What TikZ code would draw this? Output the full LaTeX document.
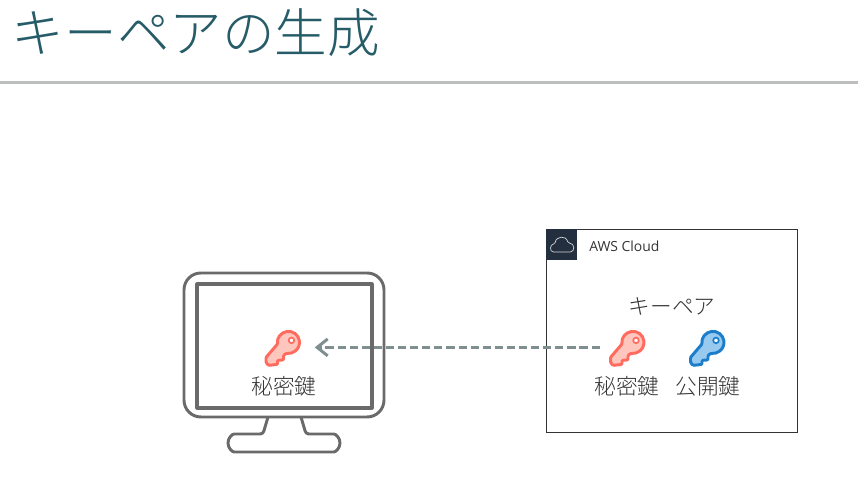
\documentclass[tikz,border=0pt]{standalone}
\usepackage{fontspec}
\setmainfont{Noto Sans CJK JP Light}
\newfontfamily\awsfont{Open Sans}
\usetikzlibrary{arrows.meta}
\definecolor{titleteal}{HTML}{265C68}
\definecolor{rulegray}{HTML}{BDBFBF}
\definecolor{labelgray}{HTML}{333333}
\definecolor{monitorgray}{HTML}{6A6A6A}
\definecolor{dashgray}{HTML}{7F8F8F}
\definecolor{badgenavy}{HTML}{232F3E}
\definecolor{keyred}{HTML}{FF6B5E}
\definecolor{keyredfill}{HTML}{FFC6BE}
\definecolor{keyblue}{HTML}{1C7ECB}
\definecolor{keybluefill}{HTML}{98C9EF}
\tikzset{
	keyicon/.pic={
		\draw[line width=2.1pt, draw=#1, fill=#1fill, line join=round, rounded corners=0.7pt]
			(-10.9, 1.5) arc (172:460:11) -- (-5, 13) -- (-5, 17.5) -- (-11, 18) -- (-11, 22) -- (-20, 23) -- (-22.5, 20) -- (-22.5, 15) -- cycle;
		\draw[line width=1.2pt, draw=#1, fill=white] (3, -2) circle (2.8);
	},
	keyspot/.style={minimum width=42.7pt, minimum height=24pt, inner sep=0pt},
	keylabel/.style={text=labelgray, font=\fontsize{15.4}{18}\selectfont, inner sep=0pt},
	monitorline/.style={line width=2.1pt, draw=monitorgray, fill=white, line join=round}
}

\begin{document}
\begin{tikzpicture}[x=0.025cm, y=-0.025cm]
	\useasboundingbox (0, 0) rectangle (858, 477);
	
	%%%%% HEADER %%%%%
	\node[text=titleteal, font=\fontsize{37.4}{44}\selectfont, inner sep=0pt] (titletext) at (196, 33) {キーペアの生成};
	\fill[rulegray] (0, 81.5) rectangle (858, 84.5);
	
	%%%%% MONITOR %%%%%
	\draw[monitorline, rounded corners=2pt] (268, 417) -- (263, 434) -- (237, 434) arc (270:90:9) -- (331, 452) arc (90:-90:9) -- (306, 434) -- (301, 417);
	\draw[monitorline, rounded corners=12pt] (184, 273) rectangle (384, 417);
	\draw[monitorline, line width=2.2pt] (197, 284) rectangle (372, 408);
	
	%%%%% CLOUD %%%%%
	\draw[line width=0.7pt, draw=black!80] (546, 229) rectangle (797, 432);
	\fill[badgenavy] (546, 229) rectangle (577, 260);
	\draw[line width=0.5pt, draw=white!80!badgenavy, rounded corners=1pt] (555, 252) .. controls (549, 252) and (550, 244) .. (555, 244) .. controls (556, 236) and (566, 235) .. (568, 243) .. controls (575, 243) and (575, 252) .. (569, 252) -- cycle;
	\node[anchor=west, text=labelgray, font=\awsfont\fontsize{9.9}{12}\selectfont, inner sep=0pt] (cloudtext) at (589, 246) {AWS Cloud};
	\node[keylabel] (pairtext) at (672, 306) {キーペア};
	
	%%%%% KEYS %%%%%
	\node[keyspot] (keypc) at (284.5, 347.4) {};
	\node[keyspot] (keyprivate) at (630, 347.4) {};
	\node[keyspot] (keypublic) at (710, 347.4) {};
	\pic at ([shift={(4, -5)}]keypc.center) {keyicon=keyred};
	\pic at ([shift={(3, -5)}]keyprivate.center) {keyicon=keyred};
	\pic at ([shift={(3, -5)}]keypublic.center) {keyicon=keyblue};
	\node[keylabel] (labelpc) at (284, 386) {秘密鍵};
	\node[keylabel] (labelprivate) at (627, 386) {秘密鍵};
	\node[keylabel] (labelpublic) at (708, 386) {公開鍵};
	
	\draw[line width=2.25pt, draw=dashgray, dash pattern=on 5.8pt off 2.8pt, -{Straight Barb[length=7.5pt, width=12pt, line width=2.1pt]}] (keyprivate.west) -- (keypc.east);
\end{tikzpicture}
\end{document}
